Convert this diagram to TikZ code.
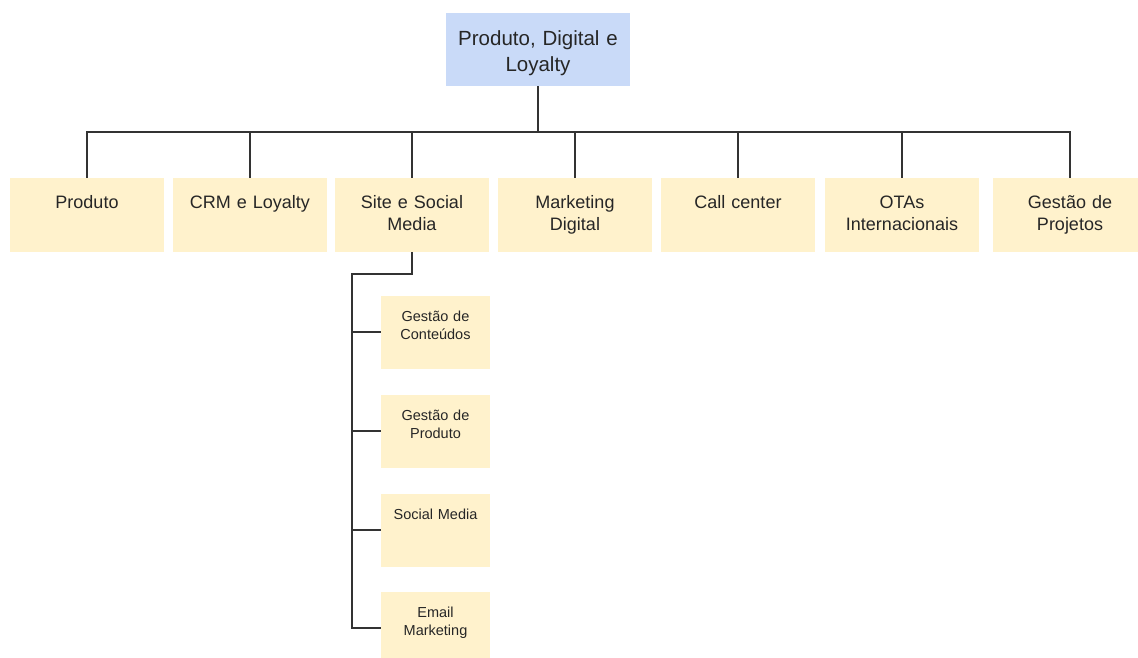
\documentclass[tikz,border=0pt]{standalone}
\usepackage{fontspec}
\setmainfont{Liberation Sans}
\usetikzlibrary{positioning}

\definecolor{headblue}{HTML}{C9DAF8}
\definecolor{unitcream}{HTML}{FFF2CC}

\tikzset{
  head/.style={fill=headblue, inner sep=0pt, text width=184pt,
    text height=32pt, text depth=41pt, align=center, text=black!85,
    font=\fontsize{20.5}{26}\selectfont},
  unit/.style={fill=unitcream, inner sep=0pt, text width=154pt,
    text height=30.5pt, text depth=43.5pt, align=center, text=black!85,
    font=\fontsize{18}{22}\selectfont},
  subunit/.style={fill=unitcream, inner sep=0pt, text width=109pt,
    text height=26pt, text depth=47pt, align=center, text=black!85,
    font=\fontsize{14.5}{18}\selectfont},
  link/.style={draw=black!80, line width=1.4pt},
}

\begin{document}
\begin{tikzpicture}[x=1pt, y=-1pt]
        \clip (0,0) rectangle (1138,657);
        \node[head] (top) at (538,49.5) {Produto, Digital e\\Loyalty};
        \coordinate (bar) at (538,132);
        % second level, all hanging off the same bar
        \foreach \x/\n/\t in {87/prod/Produto, 250/crm/CRM e Loyalty,
            412/site/Site e Social\\Media, 575/mkt/Marketing\\Digital,
            738/call/Call center, 902/ota/OTAs\\Internacionais,
            1070/proj/Gestão de\\Projetos} {
          \node[unit] (\n) at (\x,215) {\t};
          \draw[link] (top) -- (bar) -| (\n);
        }
        % areas under site e social media
        \coordinate (spine) at (352,274);
        \foreach \y/\n/\t in {332/gc/Gestão de\\Conteúdos, 431/gp/Gestão de\\Produto,
            530/sm/Social Media, 628/em/Email\\Marketing} {
          \node[subunit] (\n) at (435.5,\y) {\t};
          \draw[link] (site) |- (spine) |- (\n);
        }
      \end{tikzpicture}
\end{document}
